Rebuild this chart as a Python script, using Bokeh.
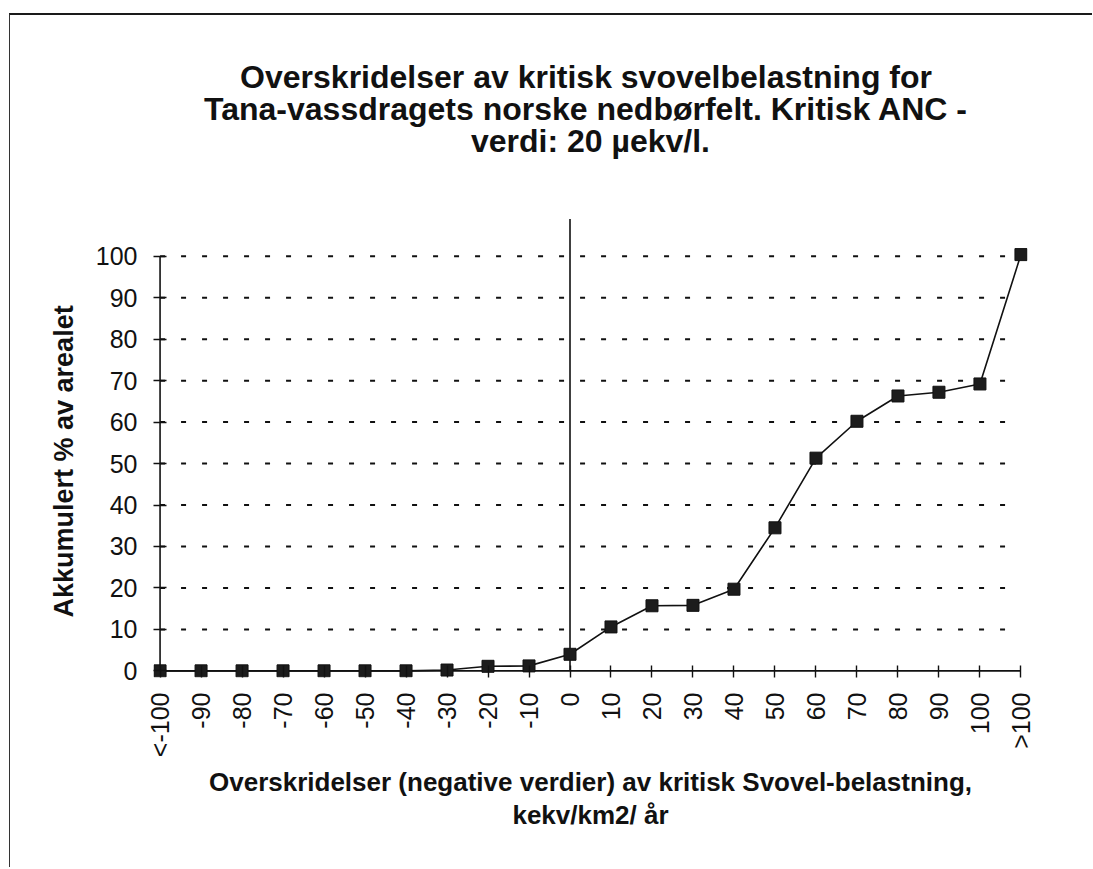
import math
from bokeh.plotting import figure
from bokeh.models import Range1d, FixedTicker, Title
from bokeh.embed import file_html
from bokeh.resources import INLINE

# ---------------- data ----------------
categories = ["<-100", "-90", "-80", "-70", "-60", "-50", "-40", "-30", "-20", "-10",
              "0", "10", "20", "30", "40", "50", "60", "70", "80", "90", "100", ">100"]
accum_pct = [0, 0, 0, 0, 0, 0, 0, 0.2, 1.1, 1.2,
             4.0, 10.6, 15.7, 15.8, 19.7, 34.5, 51.3, 60.2, 66.3, 67.2, 69.2, 100.4]
y_ticks = [0, 10, 20, 30, 40, 50, 60, 70, 80, 90, 100]
grid_levels = [10, 20, 30, 40, 50, 60, 70, 80, 90, 100]
zero_category = "0"

title_lines = ["Overskridelser  av kritisk svovelbelastning for",
               "Tana-vassdragets norske nedbørfelt. Kritisk  ANC -",
               "verdi: 20 µekv/l."]
x_title_lines = ["Overskridelser (negative verdier) av kritisk Svovel-belastning,",
                 "kekv/km2/ år"]
y_title = "Akkumulert % av arealet"

FONT = "Liberation Sans"
INK = "#111111"

n = len(categories)
xs = list(range(n))
PADX = 0.16
PADY = 1.6

p = figure(width=1083, height=854,
           x_range=Range1d(-PADX, n - 1 + PADX), y_range=Range1d(-PADY, 112),
           output_backend="svg", toolbar_location=None,
           min_border_left=143, min_border_right=66,
           min_border_top=191, min_border_bottom=192)
p.styles = {"margin-top": "13px", "margin-left": "9px",
            "border-top": "2px solid #1a1a1a", "border-left": "1px solid #333333"}
p.outline_line_color = None
p.background_fill_color = "white"
p.border_fill_color = "white"
p.xgrid.visible = False
p.ygrid.visible = False

# axes (lines drawn as glyphs at the zero positions, ticks reach across them)
for ax in (p.xaxis, p.yaxis):
    ax.axis_line_color = None
    ax.major_tick_line_color = INK
    ax.major_tick_line_width = 1.4
    ax.minor_tick_line_color = None
    ax.major_tick_out = 0
    ax.major_label_text_font = FONT
    ax.major_label_text_color = INK
    ax.major_label_text_font_size = "25px"

p.xaxis.bounds = (0, n - 1)
p.xaxis.ticker = FixedTicker(ticks=xs)
p.xaxis.major_label_overrides = {i: c for i, c in enumerate(categories)}
p.xaxis.major_label_orientation = math.pi / 2
p.xaxis.major_tick_in = 12
p.xaxis.major_label_standoff = 15

p.yaxis.bounds = (y_ticks[0], y_ticks[-1])
p.yaxis.ticker = FixedTicker(ticks=y_ticks)
p.yaxis.major_tick_in = 13
p.yaxis.major_label_standoff = 16

# dashed gridlines
p.multi_line(xs=[[0, n - 1.2] for _ in grid_levels], ys=[[g, g] for g in grid_levels],
             line_color=INK, line_width=2, line_dash="5 16")

# axis lines
p.segment(x0=[0, 0], y0=[0, y_ticks[0]], x1=[n - 1, 0], y1=[0, y_ticks[-1]],
          line_color=INK, line_width=1.6)

# vertical line at zero exceedance
i0 = categories.index(zero_category)
p.segment(x0=[i0], y0=[0], x1=[i0], y1=[109], line_color=INK, line_width=1.6)

# series
p.line(xs, accum_pct, line_color=INK, line_width=1.6)
p.scatter(xs, accum_pct, marker="square", size=12, fill_color="#1c1c1c", line_color=INK)

# titles (first added is nearest the frame)
p.add_layout(Title(text=" ", text_font_size="2px", standoff=47), "above")
for txt in reversed(title_lines):
    p.add_layout(Title(text=txt, align="center", text_font=FONT, text_font_style="bold",
                       text_font_size="32px", text_color=INK, standoff=-6), "above")

for txt, so in zip(x_title_lines, [8, -6]):
    p.add_layout(Title(text=txt, align="center", text_font=FONT, text_font_style="bold",
                       text_font_size="26px", text_color=INK, standoff=so), "below")

p.add_layout(Title(text=y_title, align="left", offset=60, standoff=27, text_font=FONT,
                   text_font_style="bold", text_font_size="27px", text_color=INK), "left")

open("out.html", "w").write(file_html(p, INLINE))
